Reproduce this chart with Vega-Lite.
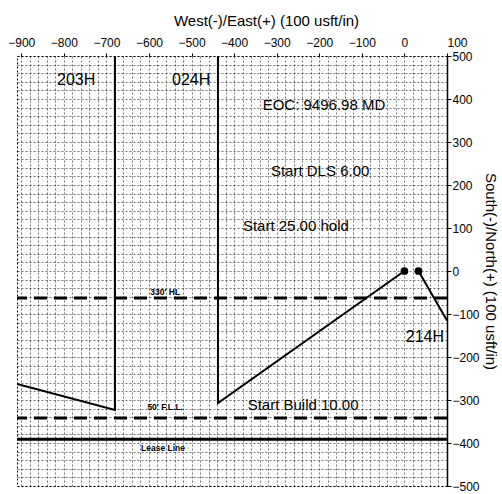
{
  "$schema": "https://vega.github.io/schema/vega-lite/v6.json",
  "autosize": "none",
  "padding": {"left": 17, "top": 56, "right": 55, "bottom": 8},
  "width": 430,
  "height": 430,
  "background": "white",
  "config": {"font": "Liberation Sans", "view": {"stroke": "#000", "strokeDash": [2, 2], "strokeWidth": 1}},
  "datasets": {
    "wells": [
      {"well": "203H", "order": 1, "x": -910, "y": -263},
      {"well": "203H", "order": 2, "x": -680, "y": -323},
      {"well": "203H", "order": 3, "x": -680, "y": 500},
      {"well": "024H", "order": 1, "x": 0, "y": 0},
      {"well": "024H", "order": 2, "x": -438, "y": -307},
      {"well": "024H", "order": 3, "x": -438, "y": 500},
      {"well": "214H", "order": 1, "x": 33, "y": 0},
      {"well": "214H", "order": 2, "x": 100, "y": -115}
    ],
    "points": [
      {"name": "surface 1", "x": 0, "y": 0},
      {"name": "surface 2", "x": 33, "y": 0}
    ],
    "lines": [
      {"name": "330' HL", "y": -63, "kind": "dashed"},
      {"name": "50' F.L.L.", "y": -342, "kind": "dashed"},
      {"name": "Lease Line", "y": -391, "kind": "solid"}
    ],
    "labels": [
      {"text": "203H", "x": -771, "y": 444, "kind": "well"},
      {"text": "024H", "x": -501, "y": 444, "kind": "well"},
      {"text": "214H", "x": 48, "y": -153, "kind": "well"},
      {"text": "EOC: 9496.98 MD", "x": -189, "y": 386, "kind": "note"},
      {"text": "Start DLS 6.00", "x": -198, "y": 232, "kind": "note"},
      {"text": "Start 25.00 hold", "x": -255, "y": 105, "kind": "note"},
      {"text": "Start Build 10.00", "x": -238, "y": -312, "kind": "note"},
      {"text": "330' HL", "x": -562, "y": -49, "kind": "small"},
      {"text": "50' F.L.L.", "x": -562, "y": -316, "kind": "small"},
      {"text": "Lease Line", "x": -567, "y": -412, "kind": "small"}
    ]
  },
  "layer": [
    {
      "data": {"name": "wells"},
      "mark": {"type": "line", "color": "#000", "strokeWidth": 2, "clip": true},
      "encoding": {
        "x": {"field": "x", "type": "quantitative", "scale": {"domain": [-910, 100], "nice": false, "zero": false},
          "axis": {"orient": "bottom", "values": [-900,-880,-860,-840,-820,-800,-780,-760,-740,-720,-700,-680,-660,-640,-620,-600,-580,-560,-540,-520,-500,-480,-460,-440,-420,-400,-380,-360,-340,-320,-300,-280,-260,-240,-220,-200,-180,-160,-140,-120,-100,-80,-60,-40,-20,0,20,40,60,80,100],
            "grid": true, "gridColor": "#000", "gridDash": [2, 2], "gridOpacity": 0.55, "gridWidth": 1,
            "labels": false, "ticks": false, "domain": false, "title": null}},
        "y": {"field": "y", "type": "quantitative", "scale": {"domain": [-500, 500], "nice": false, "zero": false},
          "axis": {"orient": "left", "values": [-500,-480,-460,-440,-420,-400,-380,-360,-340,-320,-300,-280,-260,-240,-220,-200,-180,-160,-140,-120,-100,-80,-60,-40,-20,0,20,40,60,80,100,120,140,160,180,200,220,240,260,280,300,320,340,360,380,400,420,440,460,480,500],
            "grid": true, "gridColor": "#000", "gridDash": [2, 2], "gridOpacity": 0.55, "gridWidth": 1,
            "labels": false, "ticks": false, "domain": false, "title": null}},
        "detail": {"field": "well"},
        "order": {"field": "order", "type": "quantitative"}
      }
    },
    {
      "data": {"name": "points"},
      "mark": {"type": "circle", "color": "#000", "size": 60, "opacity": 1},
      "encoding": {
        "x": {"field": "x", "type": "quantitative",
          "axis": {"orient": "top", "values": [-900,-800,-700,-600,-500,-400,-300,-200,-100,0,100],
            "grid": false, "domain": false, "ticks": true, "tickSize": 3, "tickColor": "#000",
            "labelPadding": 4, "labelFont": "Liberation Sans", "labelFontSize": 12, "labelColor": "#000",
            "labelAlign": {"condition": {"test": "datum.value == 100", "value": "left"}, "value": "center"},
            "labelFlush": false, "labelOverlap": false,
            "title": "West(-)/East(+) (100 usft/in)", "titleFont": "Liberation Sans", "titleFontSize": 15, "titleFontWeight": "normal", "titleColor": "#000",
            "titleX": 249, "titleY": -36, "titleBaseline": "middle", "titleAlign": "center"}},
        "y": {"field": "y", "type": "quantitative",
          "axis": {"orient": "right", "values": [-500,-400,-300,-200,-100,0,100,200,300,400,500],
            "grid": false, "domain": true, "domainColor": "#000", "domainWidth": 1.5, "ticks": true, "tickSize": 4, "tickColor": "#000", "tickWidth": 1,
            "labelPadding": 1, "labelFont": "Liberation Sans", "labelFontSize": 12, "labelColor": "#000", "labelFlush": false, "labelOverlap": false,
            "title": "South(-)/North(+) (100 usft/in)", "titleFont": "Liberation Sans", "titleFontSize": 15, "titleFontWeight": "normal", "titleColor": "#000",
            "titleAngle": 90, "titleX": 43, "titleY": 215, "titleBaseline": "middle", "titleAlign": "center"}}
      }
    },
    {
      "data": {"name": "lines"},
      "transform": [{"filter": "datum.kind == 'dashed'"}],
      "mark": {"type": "rule", "color": "#000", "strokeWidth": 3, "strokeDash": [13, 7]},
      "encoding": {"y": {"field": "y", "type": "quantitative", "axis": null}}
    },
    {
      "data": {"name": "lines"},
      "transform": [{"filter": "datum.kind == 'solid'"}],
      "mark": {"type": "rule", "color": "#000", "strokeWidth": 3},
      "encoding": {"y": {"field": "y", "type": "quantitative", "axis": null}}
    },
    {
      "data": {"name": "labels"},
      "transform": [{"filter": "datum.kind == 'well'"}],
      "mark": {"type": "text", "font": "Liberation Sans", "fontSize": 16, "color": "#000", "align": "center", "baseline": "middle"},
      "encoding": {
        "x": {"field": "x", "type": "quantitative", "axis": null},
        "y": {"field": "y", "type": "quantitative", "axis": null},
        "text": {"field": "text"}
      }
    },
    {
      "data": {"name": "labels"},
      "transform": [{"filter": "datum.kind == 'note'"}],
      "mark": {"type": "text", "font": "Liberation Sans", "fontSize": 15, "color": "#000", "align": "center", "baseline": "middle"},
      "encoding": {
        "x": {"field": "x", "type": "quantitative", "axis": null},
        "y": {"field": "y", "type": "quantitative", "axis": null},
        "text": {"field": "text"}
      }
    },
    {
      "data": {"name": "labels"},
      "transform": [{"filter": "datum.kind == 'small'"}],
      "mark": {"type": "text", "font": "Liberation Sans", "fontSize": 8.5, "fontWeight": "bold", "color": "#000", "align": "center", "baseline": "middle"},
      "encoding": {
        "x": {"field": "x", "type": "quantitative", "axis": null},
        "y": {"field": "y", "type": "quantitative", "axis": null},
        "text": {"field": "text"}
      }
    }
  ]
}
